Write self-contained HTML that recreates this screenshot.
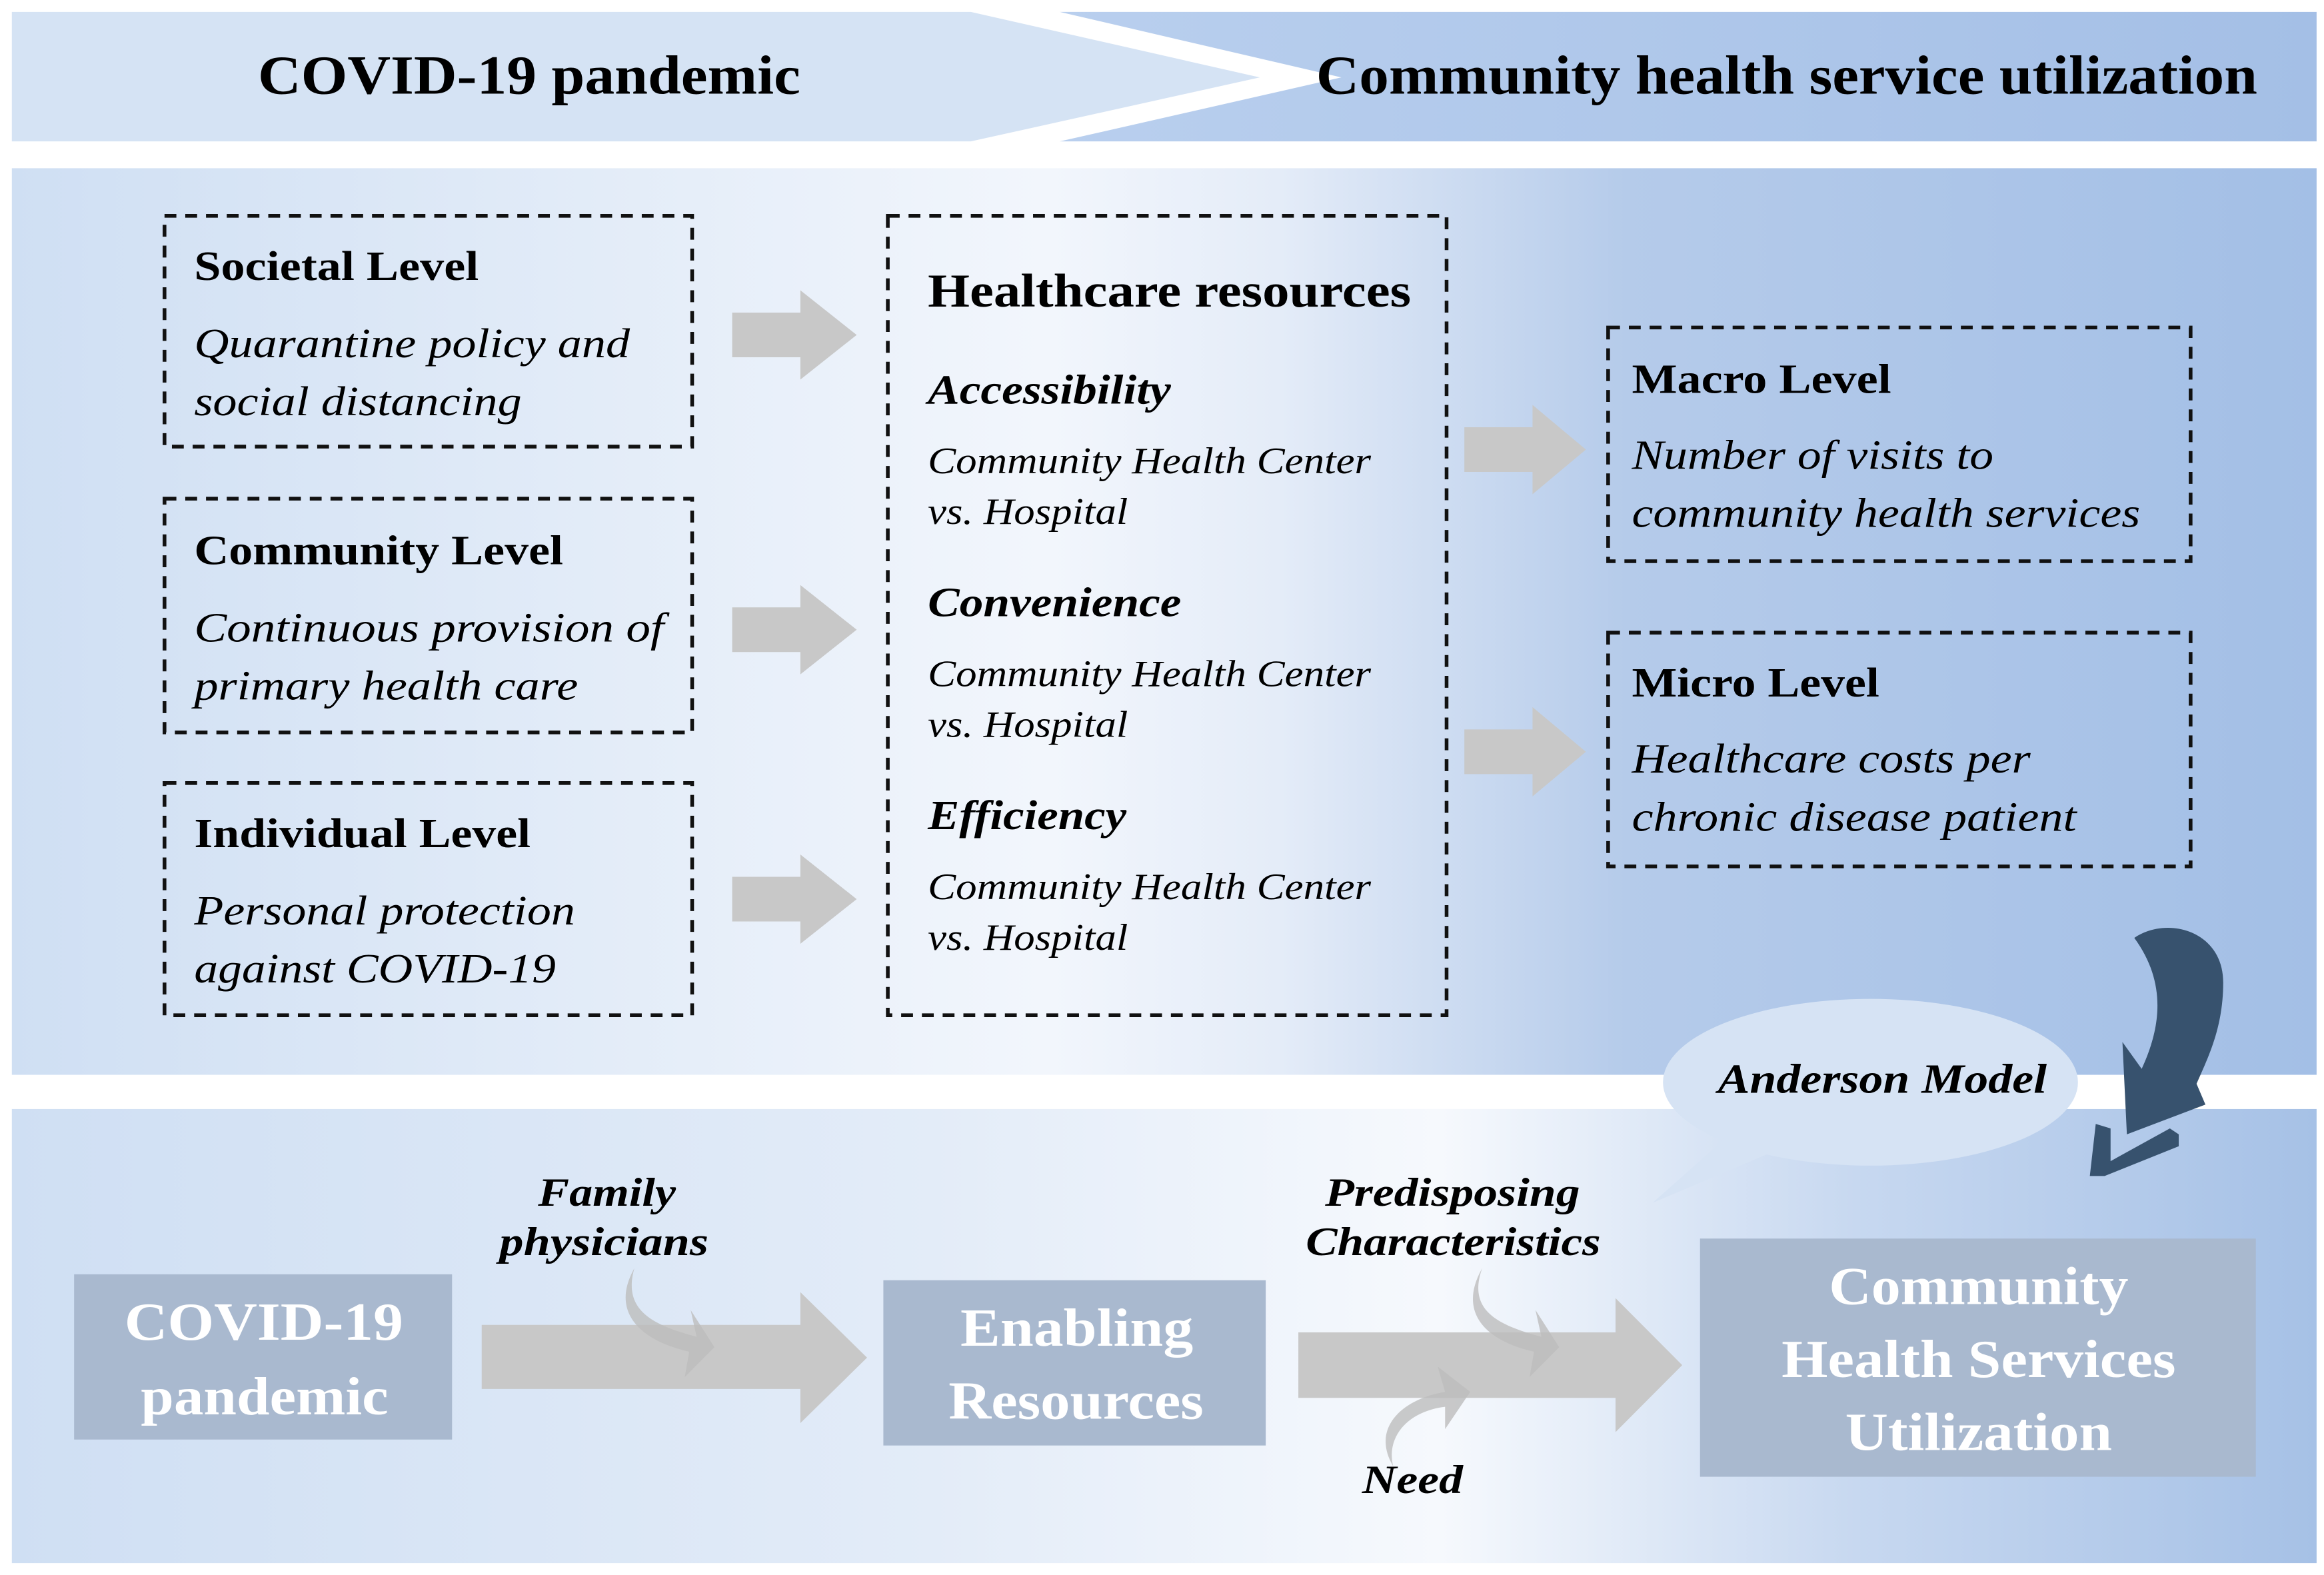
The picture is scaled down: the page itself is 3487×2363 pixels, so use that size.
<!DOCTYPE html>
<html><head><meta charset="utf-8"><style>html,body{margin:0;padding:0;background:#fff}svg{display:block}</style></head><body>
<svg width="3487" height="2363" viewBox="0 0 1568 1058" preserveAspectRatio="none" xmlns="http://www.w3.org/2000/svg" font-family="'Liberation Serif', serif">
<defs>
<linearGradient id="mid" x1="0" x2="1" y1="0" y2="0">
<stop offset="0" stop-color="#cfdff3"/><stop offset="0.45" stop-color="#f2f6fc"/><stop offset="0.55" stop-color="#e4ecf8"/><stop offset="0.7" stop-color="#b5cbea"/><stop offset="1" stop-color="#a3bfe6"/></linearGradient>
<linearGradient id="bot" x1="0" x2="1" y1="0" y2="0">
<stop offset="0" stop-color="#cfdff3"/><stop offset="0.4" stop-color="#e3ecf8"/><stop offset="0.62" stop-color="#f6f9fd"/><stop offset="0.8" stop-color="#c7d8f0"/><stop offset="1" stop-color="#a6c1e6"/></linearGradient>
<linearGradient id="topr" x1="0" x2="1"><stop offset="0" stop-color="#b9cfee"/><stop offset="1" stop-color="#a4bfe6"/></linearGradient>
</defs>
<rect width="1568" height="1058" fill="#fff"/>
<polygon points="8,8 655,8 850,52 655,95 8,95" fill="#d5e3f4"/>
<polygon points="715,8 1563,8 1563,95 715,95 905,52" fill="url(#topr)"/>
<g font-weight="bold" font-size="37" lengthAdjust="spacingAndGlyphs">
<text x="174" y="63" textLength="366" lengthAdjust="spacingAndGlyphs">COVID-19 pandemic</text>
<text x="888" y="63" textLength="635" lengthAdjust="spacingAndGlyphs">Community  health service utilization</text>
</g>
<rect x="8" y="113" width="1555" height="609" fill="url(#mid)"/>
<rect x="8" y="745" width="1555" height="305" fill="url(#bot)"/>
<g fill="none" stroke="#111" stroke-width="2.5" stroke-dasharray="8,6">
<rect x="111" y="145" width="356" height="155"/>
<rect x="111" y="335" width="356" height="157"/>
<rect x="111" y="526" width="356" height="156"/>
<rect x="599" y="145" width="377" height="537"/>
<rect x="1085" y="220" width="393" height="157"/>
<rect x="1085" y="425" width="393" height="157"/>
</g>
<g fill="#c8c8c8">
<polygon points="494,210 540,210 540,195 578,225 540,255 540,240 494,240"/>
<polygon points="494,408 540,408 540,393 578,423 540,453 540,438 494,438"/>
<polygon points="494,589 540,589 540,574 578,604 540,634 540,619 494,619"/>
<polygon points="988,287 1034,287 1034,272 1070,302 1034,332 1034,317 988,317"/>
<polygon points="988,490 1034,490 1034,475 1070,505 1034,535 1034,520 988,520"/>
<polygon points="325,890 540,890 540,868 585,912 540,956 540,933 325,933"/>
<polygon points="876,895 1090,895 1090,872 1135,917 1090,962 1090,939 876,939"/>
</g>
<g fill="#bdbdbd" opacity="0.8">
<path d="M428,852 C420,880 440,890 470,898 L466,880 L482,905 L462,925 L465,908 C430,900 412,880 428,852 Z"/>
<path d="M1000,852 C990,880 1010,890 1040,898 L1036,880 L1052,905 L1032,925 L1035,908 C1000,900 984,880 1000,852 Z"/>
<path d="M940,985 C925,960 945,940 975,935 L970,918 L992,935 L975,960 L975,945 C950,948 935,965 940,985 Z"/>
</g>
<g font-size="28">
<text x="131" y="188" font-weight="bold" textLength="192" lengthAdjust="spacingAndGlyphs">Societal Level</text>
<text x="131" y="240" font-style="italic" textLength="294" lengthAdjust="spacingAndGlyphs">Quarantine policy and</text>
<text x="131" y="279" font-style="italic" textLength="221" lengthAdjust="spacingAndGlyphs">social distancing</text>
<text x="131" y="379" font-weight="bold" textLength="249" lengthAdjust="spacingAndGlyphs">Community  Level</text>
<text x="131" y="431" font-style="italic" textLength="317" lengthAdjust="spacingAndGlyphs">Continuous provision of</text>
<text x="131" y="470" font-style="italic" textLength="259" lengthAdjust="spacingAndGlyphs">primary health care</text>
<text x="131" y="569" font-weight="bold" textLength="227" lengthAdjust="spacingAndGlyphs">Individual  Level</text>
<text x="131" y="621" font-style="italic" textLength="257" lengthAdjust="spacingAndGlyphs">Personal protection</text>
<text x="131" y="660" font-style="italic" textLength="244" lengthAdjust="spacingAndGlyphs">against COVID-19</text>
<text x="1101" y="264" font-weight="bold" textLength="175" lengthAdjust="spacingAndGlyphs">Macro Level</text>
<text x="1101" y="315" font-style="italic" textLength="244" lengthAdjust="spacingAndGlyphs">Number of visits to</text>
<text x="1101" y="354" font-style="italic" textLength="343" lengthAdjust="spacingAndGlyphs">community health services</text>
<text x="1101" y="468" font-weight="bold" textLength="167" lengthAdjust="spacingAndGlyphs">Micro Level</text>
<text x="1101" y="519" font-style="italic" textLength="269" lengthAdjust="spacingAndGlyphs">Healthcare costs per</text>
<text x="1101" y="558" font-style="italic" textLength="300" lengthAdjust="spacingAndGlyphs">chronic disease patient</text>
</g>
<text x="626" y="206" font-size="32" font-weight="bold" textLength="326" lengthAdjust="spacingAndGlyphs">Healthcare resources</text>
<g font-size="28" font-weight="bold" font-style="italic">
<text x="626" y="271" textLength="164" lengthAdjust="spacingAndGlyphs">Accessibility</text>
<text x="626" y="414" textLength="171" lengthAdjust="spacingAndGlyphs">Convenience</text>
<text x="626" y="557" textLength="134" lengthAdjust="spacingAndGlyphs">Efficiency</text>
</g>
<g font-size="25" font-style="italic">
<text x="626" y="318" textLength="299" lengthAdjust="spacingAndGlyphs">Community Health Center</text>
<text x="626" y="352" textLength="135" lengthAdjust="spacingAndGlyphs">vs. Hospital</text>
<text x="626" y="461" textLength="299" lengthAdjust="spacingAndGlyphs">Community Health Center</text>
<text x="626" y="495" textLength="135" lengthAdjust="spacingAndGlyphs">vs. Hospital</text>
<text x="626" y="604" textLength="299" lengthAdjust="spacingAndGlyphs">Community Health Center</text>
<text x="626" y="638" textLength="135" lengthAdjust="spacingAndGlyphs">vs. Hospital</text>
</g>
<rect x="50" y="856" width="255" height="111" fill="#a9b9cf"/>
<rect x="596" y="860" width="258" height="111" fill="#a9b9cf"/>
<rect x="1147" y="832" width="375" height="160" fill="#a9b9cf"/>
<g fill="#fff" font-size="36" font-weight="bold">
<text x="84" y="900" textLength="188" lengthAdjust="spacingAndGlyphs">COVID-19</text>
<text x="95" y="950" textLength="167" lengthAdjust="spacingAndGlyphs">pandemic</text>
<text x="648" y="904" textLength="157" lengthAdjust="spacingAndGlyphs">Enabling</text>
<text x="640" y="953" textLength="172" lengthAdjust="spacingAndGlyphs">Resources</text>
<text x="1234" y="876" textLength="202" lengthAdjust="spacingAndGlyphs">Community</text>
<text x="1202" y="925" textLength="266" lengthAdjust="spacingAndGlyphs">Health Services</text>
<text x="1245" y="974" textLength="180" lengthAdjust="spacingAndGlyphs">Utilization</text>
</g>
<g font-size="27" font-weight="bold" font-style="italic">
<text x="363" y="810" textLength="93" lengthAdjust="spacingAndGlyphs">Family</text>
<text x="337" y="843" textLength="141" lengthAdjust="spacingAndGlyphs">physicians</text>
<text x="894" y="810" textLength="172" lengthAdjust="spacingAndGlyphs">Predisposing</text>
<text x="881" y="843" textLength="199" lengthAdjust="spacingAndGlyphs">Characteristics</text>
<text x="919" y="1003" textLength="68" lengthAdjust="spacingAndGlyphs">Need</text>
</g>
<polygon points="1115,808 1175,755 1205,770" fill="#d6e3f4"/>
<ellipse cx="1262" cy="727" rx="140" ry="56" fill="#d6e3f4"/>
<text x="1159" y="734" font-size="28" font-weight="bold" font-style="italic" textLength="222" lengthAdjust="spacingAndGlyphs">Anderson Model</text>
<g fill="#37526e">
<path d="M1440,630 C1462,615 1500,625 1500,660 C1500,690 1490,710 1482,728 L1488,742 L1435,762 L1432,700 L1445,718 C1458,690 1462,660 1440,630 Z"/>
<path d="M1414,755 L1424,758 L1424,780 L1464,758 L1470,762 L1470,770 L1420,790 L1410,790 Z"/>
</g>
</svg>
</body></html>
